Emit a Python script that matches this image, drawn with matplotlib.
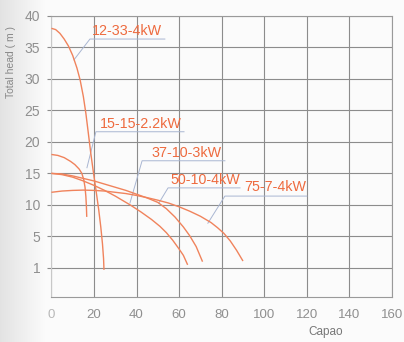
import numpy as np
import matplotlib
matplotlib.use('Agg')
import matplotlib.pyplot as plt

plt.rcParams['font.family'] = ['Liberation Sans', 'DejaVu Sans']

# 性能曲线数据（流量, 扬程）
q_12_33 = [0, 2, 4, 6, 8, 10, 12, 13.5, 15, 16.2, 17.3, 18.5, 19.8, 21, 22.2, 23.2, 24, 24.5, 24.7]
h_12_33 = [38, 37.8, 37.2, 36.3, 35.2, 33.7, 31.7, 29.8, 27.2, 24.5, 21.5, 18.2, 15, 12.2, 9.3, 6.5, 3.8, 1.5, -0.3]

q_15_15 = [0, 3, 6, 9, 11, 13, 14.3, 15.2, 15.8, 16.2, 16.45, 16.6]
h_15_15 = [18, 17.85, 17.5, 16.9, 16.4, 15.7, 15.0, 14.0, 12.8, 11.3, 9.7, 8.1]

q_37_10 = [0, 5, 10, 15, 20, 25, 30, 37, 42, 47, 51, 54, 57, 60, 62, 64]
h_37_10 = [15, 14.8, 14.4, 13.8, 13.1, 12.3, 11.4, 10.0, 8.9, 7.7, 6.6, 5.6, 4.4, 3.0, 2.0, 0.5]

q_50_10 = [0, 5, 10, 15, 20, 25, 30, 35, 40, 45, 50, 54, 58, 62, 65, 68, 71]
h_50_10 = [15, 14.9, 14.6, 14.2, 13.8, 13.3, 12.8, 12.3, 11.7, 11.1, 10.4, 9.4, 8.1, 6.5, 5.1, 3.4, 1.0]

q_75_7 = [0, 5, 10, 15, 20, 25, 30, 35, 40, 45, 50, 55, 60, 65, 70, 75, 78, 81, 84, 87, 90]
h_75_7 = [12, 12.2, 12.3, 12.35, 12.3, 12.2, 12.0, 11.8, 11.5, 11.15, 10.75, 10.3, 9.7, 9.0, 8.2, 7.2, 6.4, 5.5, 4.3, 2.8, 1.1]

labels = ['12-33-4kW', '15-15-2.2kW', '37-10-3kW', '50-10-4kW', '75-7-4kW']
curves = [(q_12_33, h_12_33), (q_15_15, h_15_15), (q_37_10, h_37_10),
          (q_50_10, h_50_10), (q_75_7, h_75_7)]

# 标注：引线目标点、拐点、线尾、文字位置
lead_target = [(10.6, 33.0), (16.7, 15.9), (36.9, 10.3), (50.5, 10.3), (73.5, 7.1)]
lead_corner = [(18.1, 36.3), (20.9, 21.6), (42.6, 17.0), (54.8, 12.7), (81.5, 11.4)]
lead_end = [53.3, 62.3, 81.5, 88.6, 120]
text_pos = [(19.1, 37.5), (22.8, 22.9), (46.8, 18.3), (56.0, 14.0), (90.5, 12.8)]

x_ticks = [0, 20, 40, 60, 80, 100, 120, 140, 160]
y_ticks = [0, 5, 10, 15, 20, 25, 30, 35, 40]
y_ticklabels = ['1', '5', '10', '15', '20', '25', '30', '35', '40']

curve_color = '#f0835c'
text_color = '#ee6a3e'
lead_color = '#a9b6d2'
grid_color = '#8c8c8c'
tick_color = '#8f8f8f'

fig = plt.figure(figsize=(4.04, 3.42), dpi=100)
fig.patch.set_facecolor('#fbfbf9')

# 左侧扫描阴影
bg = fig.add_axes([0, 0, 1, 1], zorder=-10)
grad = np.linspace(0, 1, 404)
shade = np.clip(grad * 404 / 45, 0, 1)
img = np.ones((2, 404, 3))
for c in range(3):
    img[:, :, c] = 0.89 + 0.095 * shade
bg.imshow(img, aspect='auto', extent=[0, 1, 0, 1])
bg.axis('off')

ax = fig.add_axes([51.4 / 404, 1 - 297 / 342, (392 - 51.4) / 404, (297 - 15.7) / 342])
ax.set_facecolor('none')

for (q, h) in curves:
    ax.plot(q, h, color=curve_color, lw=1.0, solid_capstyle='butt', zorder=3)

for i in range(len(labels)):
    tx, ty = lead_target[i]
    cx, cy = lead_corner[i]
    ax.plot([tx, cx, lead_end[i]], [ty, cy, cy], color=lead_color, lw=0.7, zorder=2)
    ax.text(text_pos[i][0], text_pos[i][1], labels[i], color=text_color,
            fontsize=10.3, ha='left', va='center', zorder=4)

ax.set_xlim(0, 160)
ax.set_ylim(-4.6, 40)
ax.set_xticks(x_ticks)
ax.set_yticks(y_ticks)
ax.set_yticklabels(y_ticklabels)
ax.grid(True, color=grid_color, lw=0.8)
ax.set_axisbelow(True)
for s in ax.spines.values():
    s.set_color('#9a9a9a')
    s.set_linewidth(0.8)
ax.spines['left'].set_color('#c8c8c8')
ax.tick_params(axis='x', length=0, pad=9, labelsize=9.5, labelcolor=tick_color)
ax.tick_params(axis='y', length=3, width=0.8, color=grid_color, pad=5,
               labelsize=10, labelcolor=tick_color)
ax.get_xticklabels()[0].set_color('#b8b8b8')

fig.text(326 / 404, 1 - 332 / 342, 'Capao', fontsize=8.5, color='#777777',
         ha='center', va='center')
fig.text(11 / 404, 1 - 62 / 342, 'Total head ( m )', fontsize=7.5, color='#888888',
         rotation=90, ha='center', va='center')

plt.savefig('out.png', dpi=100)
